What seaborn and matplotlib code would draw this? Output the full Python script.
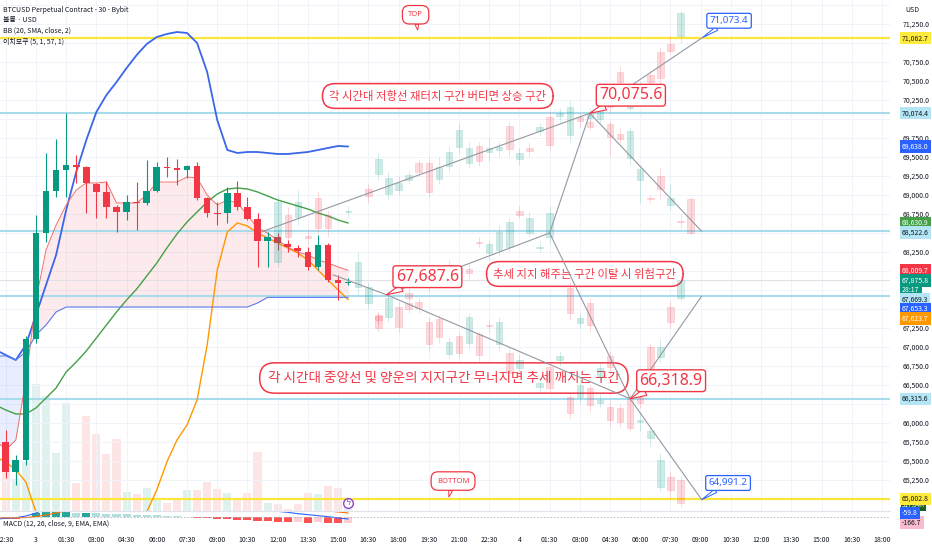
import numpy as np
import pandas as pd
import matplotlib
matplotlib.use("Agg")
import matplotlib.pyplot as plt
import matplotlib.transforms as mtrans
import seaborn as sns

# ── Data: real 30m candles (bar 0 = day 3, 00:00) ─────────────────────────────
bars = list(range(-3, 32))
open_ = [65750, 65355, 65513, 67105, 68500, 69053, 69329, 69395, 69368, 69145, 69039, 68842,
         68776, 68908, 68895, 69053, 69368, 69355, 69329, 69382, 68961, 68763, 68763, 69026,
         68842, 68684, 68395, 68447, 68355, 68303, 68250, 68053, 68342, 67882, 67842]
high_ = [65908, 65579, 67150, 68737, 69553, 69737, 70079, 69526, 69382, 69158, 69184, 68868,
         69000, 69171, 69461, 69434, 69500, 69474, 69395, 69434, 68974, 68908, 69105, 69184,
         68974, 68763, 68513, 68500, 68408, 68342, 68316, 68474, 68368, 67947, 67908]
low_ = [65276, 65184, 65450, 67050, 68382, 68974, 68974, 69158, 68763, 68697, 68697, 68513,
        68671, 68539, 68868, 69039, 69237, 69132, 69224, 68934, 68710, 68605, 68632, 68803,
        68671, 68053, 68053, 68276, 68250, 68184, 68013, 68013, 67855, 67618, 67816]
close_ = [65355, 65513, 67105, 68500, 69053, 69329, 69395, 69368, 69158, 69039, 68842, 68776,
          68908, 68895, 69053, 69368, 69355, 69329, 69382, 68961, 68763, 68750, 69026, 68842,
          68684, 68395, 68447, 68368, 68316, 68263, 68053, 68342, 67882, 67842, 67855]
volume = [630, 320, 500, 1270, 1150, 580, 1080, 280, 950, 770, 570, 720, 190, 170, 230, 120,
          80, 120, 210, 210, 290, 220, 180, 120, 180, 590, 80, 70, 20, 70, 180, 170, 250, 230, 50]

# ── Indicators (bars -4 .. 31) ────────────────────────────────────────────────
ind_bars = list(range(-4, 32))
bb_upper = [66961, 66895, 66829, 67027, 67421, 67816, 68211, 68803, 69303, 69724, 70092, 70316,
            70487, 70671, 70842, 70987, 71079, 71119, 71145, 71132, 71000, 70619, 69987, 69592,
            69553, 69566, 69566, 69553, 69540, 69540, 69553, 69566, 69592, 69619, 69645, 69638]
green_line = [66237, 66171, 66119, 66119, 66198, 66329, 66461, 66671, 66803, 66948, 67119, 67290,
              67461, 67619, 67763, 67934, 68105, 68303, 68487, 68645, 68777, 68908, 69013, 69079,
              69092, 69079, 69040, 68987, 68934, 68895, 68855, 68816, 68763, 68724, 68671, 68631]
orange_line = [65553, 65487, 65382, 65224, 64829, 64461, 64066, 63803, 63671, 63605, 63671, 63803,
               64000, 64263, 64526, 64829, 65119, 65487, 65776, 65974, 66303, 67027, 68013, 68513,
               68632, 68592, 68500, 68434, 68369, 68303, 68237, 68145, 68013, 67882, 67750, 67624]
span_a = [65776, 65645, 65776, 66566, 67619, 68276, 68605, 68869, 69066, 69158, 69158, 69171,
          68895, 68895, 68895, 69000, 69171, 69171, 69171, 69237, 69224, 69000, 68869, 68934,
          68895, 68737, 68566, 68500, 68408, 68316, 68250, 68211, 68145, 68105, 68053, 68010]
span_b = [66882, 66882, 66829, 66934, 67158, 67290, 67461, 67526, 67526, 67526, 67526, 67526,
          67526, 67526, 67526, 67526, 67526, 67526, 67526, 67526, 67526, 67526, 67526, 67526,
          67526, 67526, 67579, 67653, 67653, 67653, 67653, 67653, 67653, 67653, 67653, 67653]

# MACD pane (USD)
macd_hist = [-45, -45, -45, -30, 120, 150, 150, 150, 120, 120, 110, 105, 95, 90, 75, 70, 60, 45,
             30, 15, -15, -30, -45, -60, -75, -90, -105, -120, -150, -150, -135, -165, -135, -170,
             -180, -166.7]
macd_line = [-60, -45, -20, 30, 120, 250, 350, 450, 520, 560, 580, 580, 570, 550, 530, 510, 500,
             490, 470, 450, 420, 390, 360, 330, 300, 280, 250, 210, 170, 140, 100, 70, 40, 10,
             -30, -59.8]
macd_signal = [-20, -25, -25, -15, 10, 60, 120, 190, 250, 310, 360, 400, 430, 450, 465, 475, 480,
               480, 475, 465, 450, 430, 410, 390, 370, 350, 330, 305, 280, 255, 230, 210, 195,
               180, 150, 120]

# ── Projected (faded) bar patterns: (bar, open, high, low, close) ─────────────
upper_fade = [
    (24, 68119, 69000, 68053, 68908), (25, 68737, 68842, 68342, 68448),
    (26, 68711, 69066, 68605, 68908), (27, 68460, 68550, 68350, 68440),
    (28, 68961, 69050, 68500, 68566), (29, 68737, 68800, 68450, 68566),
    (31, 68775, 68850, 68700, 68790), (33, 69079, 69150, 68900, 68987),
    (34, 69277, 69550, 69200, 69474), (35, 69013, 69300, 68950, 69224),
    (36, 69066, 69250, 69000, 69158), (37, 69198, 69330, 69150, 69263),
    (38, 69421, 69480, 69250, 69303), (39, 69421, 69500, 68980, 69040),
    (40, 69211, 69500, 69150, 69369), (41, 69382, 69650, 69300, 69566),
    (42, 69632, 69950, 69550, 69855), (43, 69421, 69700, 69350, 69619),
    (44, 69645, 69700, 69380, 69448), (45, 69566, 69750, 69450, 69619),
    (46, 69592, 69700, 69500, 69632), (47, 69908, 69980, 69500, 69605),
    (48, 69474, 69620, 69400, 69553), (49, 69619, 69700, 69500, 69579),
    (50, 69842, 69950, 69780, 69895), (51, 70027, 70100, 69600, 69658),
    (52, 70040, 70150, 69950, 70079), (53, 69790, 70250, 69700, 70158),
    (54, 70027, 70080, 69900, 69974), (55, 70014, 70150, 69950, 70079),
    (56, 70000, 70450, 69950, 70355), (57, 70250, 70300, 70080, 70158),
    (58, 70619, 70700, 70420, 70487), (59, 70145, 70400, 70100, 70290),
    (60, 70290, 70500, 70250, 70421), (61, 70579, 70650, 70420, 70487),
    (62, 70882, 70950, 70480, 70540), (63, 70987, 71100, 70850, 70895),
    (64, 71092, 71420, 71000, 71395),
]
down_fade = [
    (55, 69961, 70000, 69850, 69895), (57, 69934, 69980, 69500, 69763),
    (58, 69803, 69880, 69680, 69737), (59, 69487, 69900, 69400, 69842),
    (60, 69198, 69400, 68900, 69342), (61, 68961, 69000, 68900, 68948),
    (62, 69250, 69350, 68950, 69079), (63, 68869, 69150, 68800, 68961),
    (64, 68658, 68750, 68560, 68645), (65, 68948, 68980, 68480, 68500),
]
mid_fade = [
    (32, 67790, 68250, 67700, 68119), (34, 67421, 67480, 67300, 67355),
    (37, 67711, 67780, 67600, 67645), (38, 67592, 67650, 67450, 67513),
    (39, 67842, 67900, 67720, 67790), (41, 68079, 68150, 67950, 68013),
    (43, 68026, 68100, 67900, 67974), (44, 68382, 68450, 68300, 68369),
    (45, 68237, 68400, 68150, 68355), (46, 68276, 68600, 68200, 68513),
    (47, 68316, 68700, 68250, 68645), (48, 68790, 68850, 68700, 68737),
    (49, 68500, 68780, 68450, 68698), (50, 68303, 68400, 68250, 68316),
    (51, 68448, 68850, 68350, 68763), (53, 67776, 67850, 67350, 67448),
    (54, 67316, 67450, 67250, 67382), (55, 67579, 67650, 67200, 67290),
    (56, 66605, 66800, 66550, 66724), (57, 66882, 66950, 66650, 66737),
]
lower_fade = [
    (33, 67579, 67850, 67500, 67790), (34, 67408, 67450, 67200, 67250),
    (35, 67395, 67700, 67330, 67645), (36, 67526, 67600, 67200, 67263),
    (37, 67579, 67650, 67450, 67500), (39, 67329, 67400, 66950, 67040),
    (40, 67369, 67420, 67050, 67132), (41, 66908, 67120, 66850, 67066),
    (42, 67145, 67200, 66850, 66921), (43, 67053, 67450, 66980, 67395),
    (44, 67171, 67200, 66800, 66895), (45, 67290, 67350, 67200, 67276),
    (46, 67040, 67400, 66950, 67329), (47, 66921, 67000, 66600, 66658),
    (48, 66724, 66900, 66650, 66829), (50, 66474, 66600, 66400, 66526),
    (51, 66737, 66800, 66400, 66461), (52, 66829, 66950, 66750, 66882),
    (53, 66342, 66400, 66050, 66132), (54, 66342, 66600, 66250, 66500),
    (55, 66461, 66500, 66150, 66237), (56, 66263, 66400, 66200, 66303),
    (57, 66211, 66300, 65950, 66040), (58, 66198, 66250, 65950, 66013),
    (59, 66342, 66400, 65900, 65934), (60, 66013, 66150, 65900, 66040),
    (61, 65803, 65950, 65700, 65895), (62, 65158, 65600, 65100, 65513),
    (63, 65290, 65350, 65000, 65119), (64, 65250, 65300, 64900, 64948),
]
rise_fade = [
    (60, 66342, 66400, 66200, 66263), (61, 67000, 67050, 66650, 66724),
    (62, 66869, 67100, 66800, 67000), (63, 67526, 67600, 67250, 67329),
    (64, 67645, 67950, 67600, 67882),
]

# ── Drawings ──────────────────────────────────────────────────────────────────
yellow_levels = [71062.7, 65002.8]
cyan_levels = [70074.4, 68522.6, 67669.3, 66315.6]
last_price = 67875.8

trend_paths = [
    [(22.5, 68520), (55, 70075.6), (66.2, 71073.4)],
    [(55, 70075.6), (66.1, 68522.6)],
    [(34.8, 67687.6), (51, 68500), (55, 70075.6)],
    [(29.5, 67950), (34.8, 67687.6), (59, 66318.9), (66.1, 64991.2)],
    [(51, 68500), (59, 66318.9), (66.1, 67669.3)],
]
price_notes = [(55, 70075.6, "70,075.6"), (34.8, 67687.6, "67,687.6"), (59, 66318.9, "66,318.9")]
blue_notes = [(66.2, 71073.4, "71,073.4"), (66.1, 64991.2, "64,991.2")]
text_notes = [
    (39.9, 70303, "각 시간대 저항선 재터치 구간 버티면 상승 구간", 8.2),
    (54.5, 67961, "추세 지지 해주는 구간 이탈 시 위험구간", 8.2),
    (40.5, 66592, "각 시간대 중앙선 및 양운의 지지구간 무너지면 추세 깨지는 구간", 9.8),
]
bubble_notes = [(37.9, 71171, "TOP", (-1.5, 11)), (41.0, 65026, "BOTTOM", (3, 11.5))]

price_ticks = [71250, 70750, 70500, 70250, 69750, 69500, 69250, 69000, 68750, 68250,
               67250, 67000, 66750, 66500, 66000, 65750, 65500, 65250]
time_ticks = list(range(-3, 85, 3))
time_labels = ["22:30", "3", "01:30", "03:00", "04:30", "06:00", "07:30", "09:00", "10:30",
               "12:00", "13:30", "15:00", "16:30", "18:00", "19:30", "21:00", "22:30", "4",
               "01:30", "03:00", "04:30", "06:00", "07:30", "09:00", "10:30", "12:00", "13:30",
               "15:00", "16:30", "18:00"]

axis_tags = [
    ("71,062.7", 71062.7, "#ffeb3b", "#131722"),
    ("70,074.4", 70074.4, "#b3e5f5", "#131722"),
    ("69,638.0", 69638.0, "#2962ff", "white"),
    ("68,630.9", 68630.9, "#43a047", "white"),
    ("68,522.6", 68522.6, "#b3e5f5", "#131722"),
    ("68,009.7", 68009.7, "#f23645", "white"),
    ("67,875.8", 67875.8, "#089981", "white"),
    ("28:17", 67875.8, "#089981", "white"),
    ("67,669.3", 67669.3, "#b3e5f5", "#131722"),
    ("67,653.3", 67653.3, "#2962ff", "white"),
    ("67,623.7", 67623.7, "#ff9800", "white"),
    ("66,315.6", 66315.6, "#b3e5f5", "#131722"),
    ("65,002.8", 65002.8, "#ffeb3b", "#131722"),
]
volume_tag = ("317.84K", "#1b5e20", "white")
macd_tags = [("-59.8", -59.8, "#2962ff", "white"), ("-166.7", -166.7, "#f8bbd0", "#131722")]

legend_lines = ["BTCUSD Perpetual Contract - 30 - Bybit", "볼륨 · USD",
                "BB (20, SMA, close, 2)", "이치모쿠 (5, 1, 57, 1)"]

# ── Style ─────────────────────────────────────────────────────────────────────
UP, DOWN = "#089981", "#f23645"
NOTE_RED = "#f23645"
TV_BLUE = "#2962ff"
TEXT = "#131722"
W, H = 932, 550

sns.set_theme(style="white")
plt.rcParams["font.family"] = ["Noto Sans", "Noto Sans CJK KR", "DejaVu Sans"]
NARROW = ["Liberation Sans Narrow", "Noto Sans CJK KR", "DejaVu Sans"]


def draw_candles(ax, n, o, h, l, c, faded=False, z=3):
    n, o, h, l, c = map(np.asarray, (n, o, h, l, c))
    up = c >= o
    cols = np.where(up, UP, DOWN)
    if faded:
        for i in range(len(n)):
            ax.vlines(n[i], l[i], h[i], color=cols[i], alpha=0.18, lw=0.7, zorder=z)
            ax.bar(n[i], max(abs(c[i] - o[i]), 12), bottom=min(o[i], c[i]), width=0.64,
                   color=cols[i], alpha=0.19, edgecolor=cols[i], linewidth=0.5, zorder=z)
    else:
        ax.vlines(n, l, h, colors=cols, lw=0.8, zorder=z)
        ax.bar(n, np.maximum(np.abs(c - o), 12), bottom=np.minimum(o, c), width=0.66,
               color=cols, linewidth=0, zorder=z)


fig = plt.figure(figsize=(W / 100, H / 100), dpi=100)
fig.patch.set_facecolor("white")
ax = fig.add_axes([0, 39 / H, 890 / W, 511 / H])
axv = ax.twinx()
ax2 = fig.add_axes([0, 22 / H, 890 / W, 17 / H], sharex=ax)
axv.set_zorder(1)
ax.set_zorder(2)
ax2.set_zorder(3)
ax.patch.set_visible(False)

ax.set_xlim(-3.57, 84.8)
ax.set_ylim(64842, 71566)
axv.set_ylim(0, 5110)
ax2.set_ylim(-330, 180)

# grid
for v in np.arange(65000, 71501, 250):
    ax.axhline(v, color="#f0f3fa", lw=0.7, zorder=0.5)
for t in time_ticks:
    ax.axvline(t, color="#f0f3fa", lw=0.7, zorder=0.5)

# volume
vol_cols = [UP if c >= o else DOWN for o, c in zip(open_, close_)]
axv.bar(bars, volume, width=0.8, color=vol_cols, alpha=0.13, linewidth=0)
axv.set_yticks([])
axv.grid(False)

# ichimoku cloud
sa, sb = np.array(span_a), np.array(span_b)
ax.fill_between(ind_bars, sa, sb, where=sa >= sb, interpolate=True, color=DOWN, alpha=0.1,
                linewidth=0, zorder=1)
ax.fill_between(ind_bars, sa, sb, where=sa < sb, interpolate=True, color=TV_BLUE, alpha=0.1,
                linewidth=0, zorder=1)

# levels
for v in yellow_levels:
    ax.axhline(v, color="#fbe73c", lw=1.6, zorder=1.5)
for v in cyan_levels:
    ax.axhline(v, color="#a8dcec", lw=1.5, zorder=1.5)
ax.axhline(last_price, color="#dfe1e6", lw=0.8, zorder=1.5)

# indicator lines
ind = pd.DataFrame({"bar": ind_bars, "upper": bb_upper, "green": green_line,
                    "orange": orange_line, "a": span_a, "b": span_b})
for col, color, lw in [("upper", "#3a66e8", 1.3), ("green", "#43a047", 1.0),
                       ("orange", "#ff9800", 1.0), ("a", "#ef6f6c", 0.7), ("b", "#5b7cf0", 0.8)]:
    sns.lineplot(data=ind, x="bar", y=col, ax=ax, color=color, linewidth=lw,
                 estimator=None, sort=False, legend=False, zorder=2)

# real candles
draw_candles(ax, bars, open_, high_, low_, close_, faded=False, z=3)

# text callouts (behind the projected bars)
for n, p, txt, fs in text_notes:
    ax.text(n, p, txt, fontsize=fs, color=NOTE_RED, ha="center", va="center", zorder=3.5,
            family=["Noto Sans CJK KR", "DejaVu Sans"],
            bbox=dict(boxstyle="round,pad=0.6,rounding_size=1.1", fc="white", ec=NOTE_RED, lw=1.1))

# projected bars
for fade in (upper_fade, down_fade, mid_fade, lower_fade, rise_fade):
    arr = np.array(fade)
    draw_candles(ax, arr[:, 0], arr[:, 1], arr[:, 2], arr[:, 3], arr[:, 4], faded=True, z=4)

# trend lines
for path in trend_paths:
    df = pd.DataFrame(path, columns=["bar", "price"])
    sns.lineplot(data=df, x="bar", y="price", ax=ax, color="#9598a1", linewidth=0.8,
                 estimator=None, sort=False, legend=False, zorder=5)

# price callouts
for n, p, txt in price_notes:
    ax.annotate(txt, xy=(n, p), xytext=(29.5, 13), textcoords="offset points",
                ha="center", va="center", fontsize=11.5, fontweight="bold", color=NOTE_RED,
                zorder=6,
                bbox=dict(boxstyle="round,pad=0.18,rounding_size=0.2", fc="white", ec=NOTE_RED,
                          lw=1.0),
                arrowprops=dict(arrowstyle="wedge,tail_width=0.45,shrink_factor=0.5", fc="white",
                                ec=NOTE_RED, lw=0.8, shrinkA=0, shrinkB=0))
for n, p, txt in blue_notes:
    ax.annotate(txt, xy=(n, p), xytext=(19, 12), textcoords="offset points",
                ha="center", va="center", fontsize=7, color=TV_BLUE, zorder=6,
                bbox=dict(boxstyle="round,pad=0.3,rounding_size=0.2", fc="white", ec=TV_BLUE,
                          lw=0.9),
                arrowprops=dict(arrowstyle="wedge,tail_width=0.4,shrink_factor=0.5", fc="white",
                                ec=TV_BLUE, lw=0.7, shrinkA=0, shrinkB=0))
for n, p, txt, off in bubble_notes:
    ax.annotate(txt, xy=(n, p), xytext=off, textcoords="offset points",
                ha="center", va="center", fontsize=5.5, color=NOTE_RED, zorder=6,
                bbox=dict(boxstyle="round,pad=0.75,rounding_size=0.9", fc="white", ec=NOTE_RED,
                          lw=0.9),
                arrowprops=dict(arrowstyle="wedge,tail_width=0.5,shrink_factor=0.5", fc="white",
                                ec=NOTE_RED, lw=0.7, shrinkA=0, shrinkB=0))

# alert icon
ax.plot(31, 64948, marker="o", ms=7, mfc="white", mec="#8e44c9", mew=1.0, zorder=6,
        clip_on=False)
ax.text(31, 64948, "ϟ", fontsize=6, color="#8e44c9", ha="center", va="center", zorder=7,
        family=["DejaVu Sans"])

# price axis
ax.yaxis.tick_right()
ax.set_yticks(price_ticks)
ax.set_yticklabels([f"{v:,.1f}" for v in price_ticks], fontsize=5, color=TEXT, family=NARROW)
ax.tick_params(axis="y", length=0, pad=9)
ax.tick_params(axis="x", length=0, labelbottom=False)
ax.set_xticks(time_ticks)
ax.set_xlabel("")
ax.set_ylabel("")
for s in ax.spines.values():
    s.set_visible(False)
for s in axv.spines.values():
    s.set_visible(False)
ax.grid(False)

# MACD pane
hist = np.array(macd_hist)
prev = np.concatenate([[hist[0]], hist[:-1]])
hcols = np.where(hist >= 0, np.where(hist >= prev, "#26a69a", "#b2dfdb"),
                 np.where(hist <= prev, "#ff5252", "#ffcdd2"))
ax2.bar(ind_bars, hist, width=0.8, color=hcols, linewidth=0)
macd_df = pd.DataFrame({"bar": ind_bars, "macd": macd_line, "signal": macd_signal})
sns.lineplot(data=macd_df, x="bar", y="macd", ax=ax2, color=TV_BLUE, linewidth=0.8,
             estimator=None, legend=False)
sns.lineplot(data=macd_df, x="bar", y="signal", ax=ax2, color="#ff6d00", linewidth=0.8,
             estimator=None, legend=False)
ax2.axhline(0, color="#b2b5be", lw=0.6, ls=(0, (2, 2)))
ax2.set_ylim(-330, 180)
ax2.set_yticks([])
ax2.set_xlabel("")
ax2.set_ylabel("")
ax2.set_xticks(time_ticks)
ax2.set_xticklabels(time_labels, fontsize=5, color=TEXT, family=NARROW)
ax2.tick_params(axis="x", length=0, pad=6)
for k, s in ax2.spines.items():
    s.set_visible(k == "top")
ax2.spines["top"].set_color("#e0e3eb")
ax2.spines["top"].set_linewidth(0.8)
ax2.patch.set_visible(False)
ax2.text(0.003, 0.28, "MACD (12, 26, close, 9, EMA, EMA)", transform=ax2.transAxes,
         fontsize=5, color=TEXT, va="center", family=NARROW, zorder=5,
         bbox=dict(boxstyle="square,pad=0.1", fc="white", ec="none", alpha=0.7))
ax.set_xlim(-3.57, 84.8)


def place_tags(axis, tags, downward=True, gap=9.5):
    inv = axis.transData.inverted()
    tr = mtrans.blended_transform_factory(axis.transAxes, axis.transData)
    order = tags if downward else tags[::-1]
    last = None
    for txt, val, bg, fg in order:
        y = axis.transData.transform((0, val))[1]
        if last is not None:
            if downward and y > last - gap:
                y = last - gap
            if not downward and y < last + gap:
                y = last + gap
        last = y
        yv = inv.transform((0, y))[1]
        axis.text(902 / 890, yv, txt, transform=tr, fontsize=5, color=fg, ha="left",
                  va="center", family=NARROW, clip_on=False, zorder=10,
                  bbox=dict(boxstyle="square,pad=0.3", fc=bg, ec="none"))


place_tags(ax, axis_tags, downward=True)
# volume tag just above the pane edge, partly covered by the MACD tags (as on screen)
ax.text(902 / 890, 0.011, volume_tag[0], transform=ax.transAxes, fontsize=4.5,
        color=volume_tag[2], ha="left", va="center", family=NARROW, clip_on=False, zorder=9,
        bbox=dict(boxstyle="square,pad=0.2", fc=volume_tag[1], ec="none"))
place_tags(ax2, macd_tags, downward=False)

# header
for i, line in enumerate(legend_lines):
    fig.text(3 / W, 1 - (10 + 10.5 * i) / H, line, fontsize=5, color=TEXT, va="center",
             family=NARROW)
fig.text(905 / W, 1 - 10 / H, "USD", fontsize=5, color=TEXT, va="center", family=NARROW)

fig.savefig("out.png", dpi=100, facecolor="white")
